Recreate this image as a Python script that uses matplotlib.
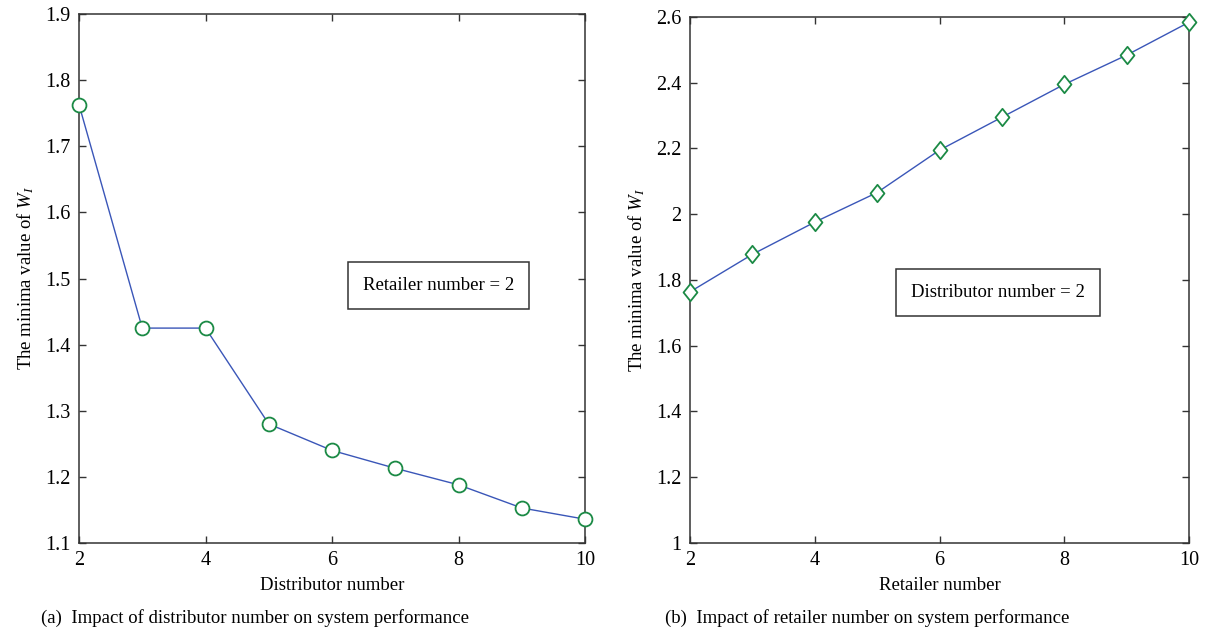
import matplotlib
matplotlib.use('Agg')
import matplotlib.pyplot as plt
from matplotlib.path import Path
from matplotlib.ticker import FormatStrFormatter, FuncFormatter

# data
distributors = [2, 3, 4, 5, 6, 7, 8, 9, 10]
w_dist = [1.763, 1.425, 1.425, 1.280, 1.240, 1.213, 1.188, 1.153, 1.136]

retailers = [2, 3, 4, 5, 6, 7, 8, 9, 10]
w_ret = [1.764, 1.878, 1.976, 2.066, 2.195, 2.295, 2.395, 2.484, 2.584]

left_yticks = [1.1, 1.2, 1.3, 1.4, 1.5, 1.6, 1.7, 1.8, 1.9]
right_yticks = [1, 1.2, 1.4, 1.6, 1.8, 2, 2.2, 2.4, 2.6]
xticks = [2, 4, 6, 8, 10]

plt.rcParams['font.family'] = 'Liberation Serif'
plt.rcParams['mathtext.fontset'] = 'custom'
plt.rcParams['mathtext.rm'] = 'Liberation Serif'
plt.rcParams['mathtext.it'] = 'Liberation Serif:italic'

fs = 13.5
line_c = '#3a56b8'
mark_c = '#1b8a45'
spine_c = '#333333'

diamond = Path([(0, 1), (0.8, 0), (0, -1), (-0.8, 0), (0, 1)],
               [Path.MOVETO, Path.LINETO, Path.LINETO, Path.LINETO, Path.CLOSEPOLY])

fig = plt.figure(figsize=(12.07, 6.44), dpi=100)
ax1 = fig.add_axes([79/1207, 1-543/644, 506/1207, 529/644])
ax2 = fig.add_axes([690/1207, 1-543/644, 499/1207, 526/644])

ax1.plot(distributors, w_dist, color=line_c, lw=1.0, marker='o', ms=10,
         mfc='white', mec=mark_c, mew=1.3, clip_on=False, zorder=3)
ax2.plot(retailers, w_ret, color=line_c, lw=1.0, marker=diamond, ms=12.5,
         mfc='white', mec=mark_c, mew=1.3, clip_on=False, zorder=3)

ax1.set_xlim(2, 10)
ax1.set_ylim(1.1, 1.9)
ax1.set_yticks(left_yticks)
ax1.yaxis.set_major_formatter(FormatStrFormatter('%.1f'))
ax2.set_xlim(2, 10)
ax2.set_ylim(1, 2.6)
ax2.set_yticks(right_yticks)
ax2.yaxis.set_major_formatter(FuncFormatter(lambda v, p: '%g' % v))

for ax in (ax1, ax2):
    ax.set_xticks(xticks)
    ax.tick_params(direction='in', length=5, width=1, color=spine_c,
                   top=True, right=True, labelsize=14.5, pad=6)
    for s in ax.spines.values():
        s.set_color(spine_c)
        s.set_linewidth(1.1)
    ax.set_ylabel('The minima value of $W_I$', fontsize=fs, labelpad=7)

ax1.set_xlabel('Distributor number', fontsize=fs, labelpad=5)
ax2.set_xlabel('Retailer number', fontsize=fs, labelpad=5)

box = dict(boxstyle='square,pad=0.8', fc='white', ec=spine_c, lw=1.1)
ax1.text(0.71, 0.486, 'Retailer number = 2', transform=ax1.transAxes,
         fontsize=fs, ha='center', va='center', bbox=box)
ax2.text(0.617, 0.476, 'Distributor number = 2', transform=ax2.transAxes,
         fontsize=fs, ha='center', va='center', bbox=box)

fig.text(255/1207, 1-618/644, '(a)  Impact of distributor number on system performance',
         fontsize=fs, ha='center', va='center')
fig.text(867/1207, 1-618/644, '(b)  Impact of retailer number on system performance',
         fontsize=fs, ha='center', va='center')

fig.savefig('out.png', dpi=100)
